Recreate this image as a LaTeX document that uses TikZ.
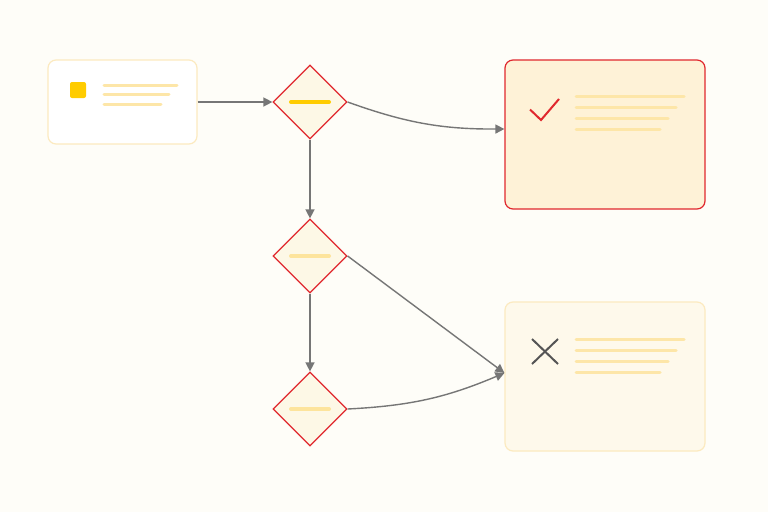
\documentclass[tikz,border=0pt]{standalone}
\usepackage{tikz}
\usetikzlibrary{shapes.geometric,arrows.meta}

\definecolor{bgcream}{HTML}{FEFDF8}
\definecolor{decred}{HTML}{E0282E}
\definecolor{decfill}{HTML}{FDF8E6}
\definecolor{okfill}{HTML}{FEF2D7}
\definecolor{failfill}{HTML}{FEF9EB}
\definecolor{cardedge}{HTML}{FCEAC0}
\definecolor{flowgray}{HTML}{767676}
\definecolor{gold}{HTML}{FFCC00}
\definecolor{paleGold}{HTML}{FDE49C}
\definecolor{lineGold}{HTML}{FDE6A8}
\definecolor{crossgray}{HTML}{555555}

\begin{document}
\begin{tikzpicture}
  [x=1pt,y=-1pt,
   card/.style={rectangle,rounded corners=8pt,line width=1.2pt,minimum width=149pt,minimum height=84pt,inner sep=0pt},
   bigcard/.style={card,minimum width=200pt,minimum height=149pt},
   choice/.style={diamond,draw=decred,fill=decfill,line width=1.2pt,minimum width=74pt,minimum height=74pt,inner sep=0pt},
   flow/.style={draw=flowgray,line width=1.4pt,-{Triangle[length=9pt,width=9pt]}},
   txt/.style={lineGold,line width=3pt,line cap=round}]

  % background and bounds
  \fill[bgcream] (0,0) rectangle (768,512);
  \useasboundingbox (0,0) rectangle (768,512);

  \node[card,draw=cardedge,fill=white] (start) at (122.5,102) {};
  \node[choice] (q1) at (310,102) {};
  \node[choice] (q2) at (310,256) {};
  \node[choice] (q3) at (310,409) {};
  \node[bigcard,draw=decred,fill=okfill] (ok) at (605,134.5) {};
  \node[bigcard,draw=cardedge,fill=failfill] (fail) at (605,376.5) {};

  % start card
  \fill[gold,rounded corners=2pt] (70,82) rectangle (86,98);
  \draw[txt] (104,85) -- (177,85);
  \draw[txt] (104,94.5) -- (169,94.5);
  \draw[txt] (104,104) -- (161,104);

  % diamond bars
  \draw[gold,line width=4pt,line cap=round] (291,102) -- (329,102);
  \draw[paleGold,line width=4pt,line cap=round] (291,256) -- (329,256);
  \draw[paleGold,line width=4pt,line cap=round] (291,409) -- (329,409);

  % success card
  \draw[decred,line width=2pt] (530,109.5) -- (541,120) -- (559,99);
  \draw[txt] (576,96.5) -- (684,96.5);
  \draw[txt] (576,107.5) -- (676,107.5);
  \draw[txt] (576,118.5) -- (668,118.5);
  \draw[txt] (576,129.5) -- (660,129.5);

  % failure card
  \draw[crossgray,line width=2pt] (532,339) -- (558,364);
  \draw[crossgray,line width=2pt] (558,339) -- (532,364);
  \draw[txt] (576,339) -- (684,339);
  \draw[txt] (576,350) -- (676,350);
  \draw[txt] (576,361) -- (668,361);
  \draw[txt] (576,372) -- (660,372);

  \draw[flow] (start) -- (q1);
  \draw[flow] (q1.east) to[bend right=10] ([yshift=5.5pt]ok.west);
  \draw[flow] (q1) -- (q2);
  \draw[flow] (q2) -- (q3);
  \draw[flow] (q2.east) -- ([yshift=3.5pt]fail.west);
  \draw[flow] (q3.east) to[bend right=10] ([yshift=3.5pt]fail.west);
\end{tikzpicture}
\end{document}
